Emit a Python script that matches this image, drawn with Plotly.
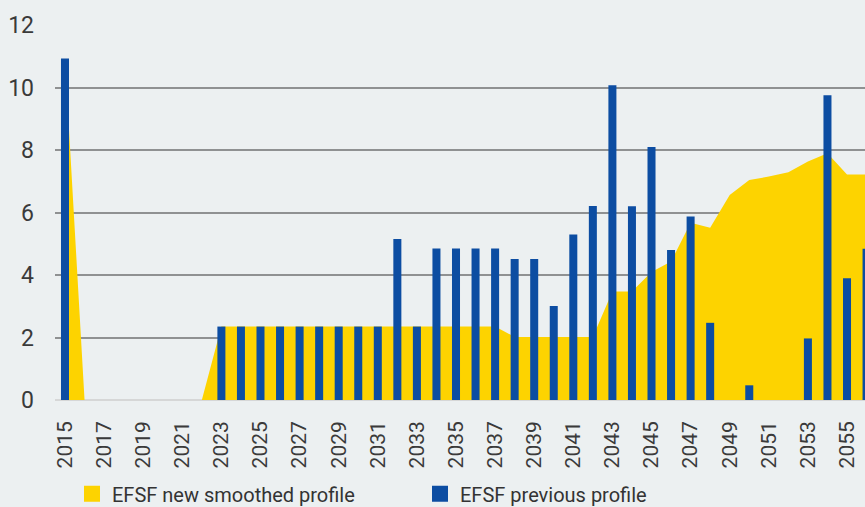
import plotly.graph_objects as go

years = list(range(2015, 2057))

new_smoothed = [10.9, 0, 0, 0, 0, 0, 0, 0,          # 2015-2022
                2.35, 2.35, 2.35, 2.35, 2.35, 2.35, 2.35, 2.35,  # 2023-2030
                2.35, 2.35, 2.35, 2.35, 2.35, 2.35, 2.35,        # 2031-2037
                2.02, 2.02, 2.02, 2.02, 2.02,                    # 2038-2042
                3.47, 3.47, 4.1, 4.43, 5.67, 5.51, 6.56, 7.04,  # 2043-2050
                7.15, 7.29, 7.63, 7.9, 7.22, 7.22]              # 2051-2056

previous = [10.93, 0, 0, 0, 0, 0, 0, 0,            # 2015-2022
            2.35, 2.35, 2.35, 2.35, 2.35, 2.35, 2.35, 2.35,  # 2023-2030
            2.35, 5.15, 2.35, 4.85, 4.85, 4.85, 4.85,        # 2031-2037
            4.51, 4.51, 3.01, 5.3, 6.21,                     # 2038-2042
            10.07, 6.2, 8.1, 4.8, 5.87, 2.47, 0, 0.47,       # 2043-2050
            0, 0, 1.97, 9.75, 3.9, 4.84]                     # 2051-2056

series_names = ["EFSF new smoothed profile", "EFSF previous profile"]
tick_years = list(range(2015, 2056, 2))
y_ticks = [0, 2, 4, 6, 8, 10, 12]

YELLOW = "#FDD300"
BLUE = "#0C4DA2"
BG = "#ECF0F1"
TXT = "#3a3a3a"

fig = go.Figure()
fig.add_trace(go.Scatter(
    x=years, y=new_smoothed, mode="lines", fill="tozeroy",
    line=dict(width=0, color=YELLOW), fillcolor=YELLOW,
    showlegend=False, name=series_names[0]))
fig.add_trace(go.Bar(x=years, y=previous, marker_color=BLUE, width=0.41,
                     marker_line_width=0, name=series_names[1],
                     showlegend=False, yaxis="y2"))
# legend swatches
for nm, col in zip(series_names, [YELLOW, BLUE]):
    fig.add_trace(go.Scatter(x=[None], y=[None], mode="markers", name=nm,
                             marker=dict(symbol="square", size=16, color=col)))

fig.update_layout(
    width=865, height=507,
    margin=dict(l=55, r=0, t=25, b=107, autoexpand=False),
    paper_bgcolor=BG, plot_bgcolor=BG,
    font=dict(family="Roboto", color=TXT),
    legend=dict(orientation="h", x=(72 - 55) / 810.0, xref="paper", xanchor="left",
                y=0.026, yanchor="middle", yref="container",
                font=dict(size=20, color="#333333", family="Roboto"),
                bgcolor="rgba(0,0,0,0)", traceorder="normal",
                entrywidthmode="pixels", entrywidth=303),
    barmode="overlay",
    showlegend=True,
)
fig.update_xaxes(
    range=[2014.489, 2055.92], tickvals=tick_years, ticktext=[str(t) for t in tick_years],
    tickangle=-90, tickfont=dict(size=21, color=TXT, family="Roboto"), showgrid=False,
    zeroline=False, showline=False, ticks="", ticklabelstandoff=16, automargin=False,
)
fig.update_layout(
    yaxis=dict(
        range=[0, 12], tickvals=y_ticks, tickfont=dict(size=23, color=TXT),
        showgrid=True, gridcolor="#8f9192", gridwidth=1.5,
        zeroline=True, zerolinecolor="#d6d7d7", zerolinewidth=2,
        showline=False, ticks="", ticklabelstandoff=20, automargin=False),
    yaxis2=dict(overlaying="y", range=[0, 12], visible=False, showgrid=False,
                zeroline=False),
)

fig.write_html("out.html", config={"displayModeBar": False},
               post_script="document.body.style.margin='0px';")
